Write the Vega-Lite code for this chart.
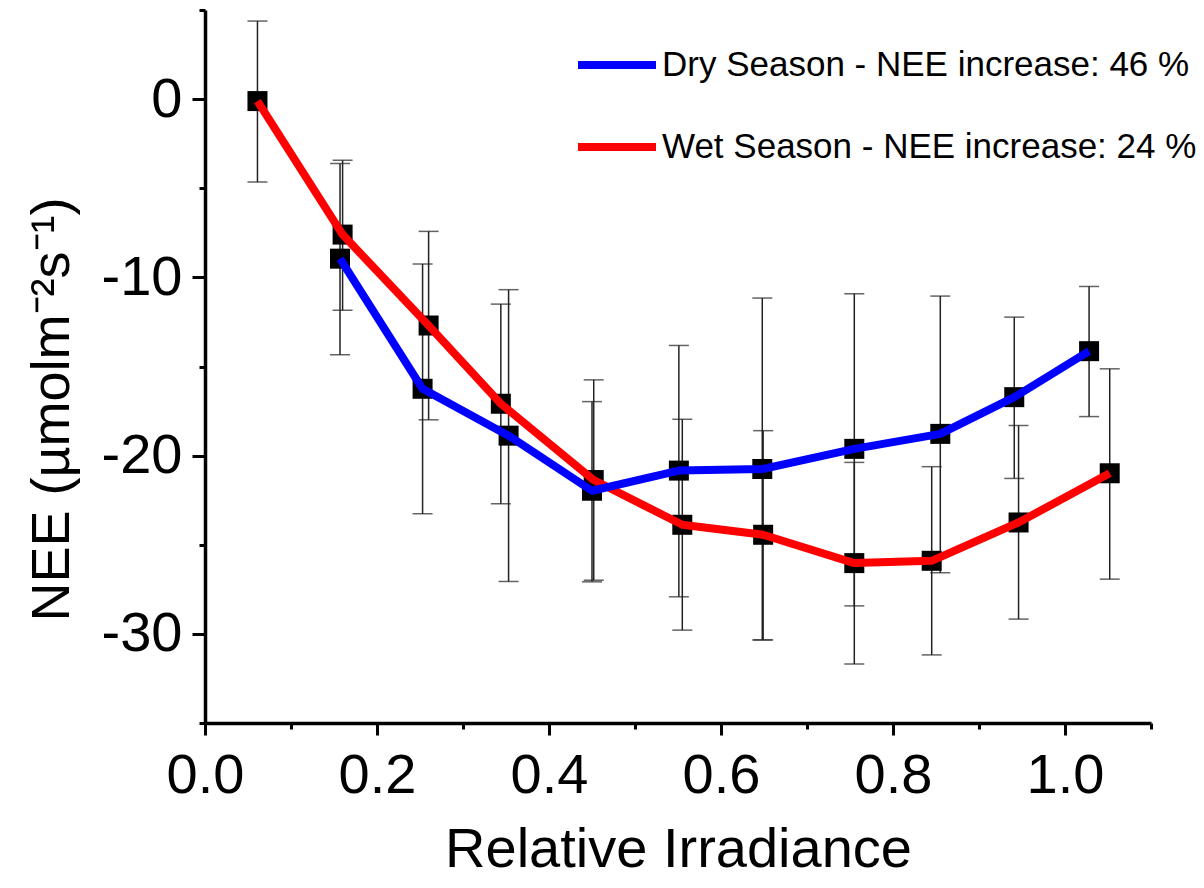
{
  "$schema": "https://vega.github.io/schema/vega-lite/v6.json",
  "width": 946,
  "height": 713,
  "autosize": {"type": "none"},
  "padding": {"left": 205, "top": 10, "right": 53, "bottom": 165},
  "background": "white",
  "config": {
    "view": {"stroke": null},
    "font": "Liberation Sans",
    "axis": {
      "grid": false,
      "domainColor": "black",
      "tickColor": "black",
      "labelColor": "black",
      "titleColor": "black",
      "titleFontWeight": "normal",
      "labelFont": "Liberation Sans",
      "titleFont": "Liberation Sans"
    }
  },
  "datasets": {
    "nee": [
      {"season": "Wet", "x": 0.061, "nee": -0.11, "lo": -4.65, "hi": 4.38},
      {"season": "Wet", "x": 0.160, "nee": -7.60, "lo": -11.85, "hi": -3.43},
      {"season": "Wet", "x": 0.260, "nee": -12.70, "lo": -17.99, "hi": -7.42},
      {"season": "Wet", "x": 0.344, "nee": -17.09, "lo": -22.70, "hi": -11.50},
      {"season": "Wet", "x": 0.452, "nee": -21.37, "lo": -26.99, "hi": -15.75},
      {"season": "Wet", "x": 0.555, "nee": -23.88, "lo": -29.79, "hi": -17.96},
      {"season": "Wet", "x": 0.649, "nee": -24.44, "lo": -30.34, "hi": -18.60},
      {"season": "Wet", "x": 0.755, "nee": -26.03, "lo": -31.69, "hi": -20.38},
      {"season": "Wet", "x": 0.845, "nee": -25.90, "lo": -31.18, "hi": -20.62},
      {"season": "Wet", "x": 0.946, "nee": -23.75, "lo": -29.17, "hi": -18.31},
      {"season": "Wet", "x": 1.052, "nee": -20.99, "lo": -26.93, "hi": -15.13},
      {"season": "Dry", "x": 0.157, "nee": -8.95, "lo": -14.34, "hi": -3.61},
      {"season": "Dry", "x": 0.253, "nee": -16.25, "lo": -23.26, "hi": -9.25},
      {"season": "Dry", "x": 0.353, "nee": -18.88, "lo": -27.06, "hi": -10.69},
      {"season": "Dry", "x": 0.450, "nee": -21.97, "lo": -27.08, "hi": -16.97},
      {"season": "Dry", "x": 0.551, "nee": -20.84, "lo": -27.92, "hi": -13.82},
      {"season": "Dry", "x": 0.648, "nee": -20.75, "lo": -30.34, "hi": -11.16},
      {"season": "Dry", "x": 0.755, "nee": -19.62, "lo": -28.43, "hi": -10.92},
      {"season": "Dry", "x": 0.855, "nee": -18.78, "lo": -26.57, "hi": -11.05},
      {"season": "Dry", "x": 0.941, "nee": -16.72, "lo": -21.28, "hi": -12.23},
      {"season": "Dry", "x": 1.028, "nee": -14.14, "lo": -17.81, "hi": -10.51}
    ]
  },
  "data": {"name": "nee"},
  "resolve": {"axis": {"x": "independent", "y": "independent"}},
  "layer": [
    {
      "mark": {"type": "rule", "color": "#222222", "strokeWidth": 1.5},
      "encoding": {
        "x": {
          "field": "x", "type": "quantitative",
          "scale": {"domain": [0, 1.1], "nice": false, "zero": false},
          "axis": {
            "orient": "bottom",
            "values": [0, 0.2, 0.4, 0.6, 0.8, 1.0],
            "format": ".1f",
            "title": "Relative Irradiance",
            "titleFontSize": 56,
            "titleBaseline": "alphabetic",
            "titleY": 143,
            "labelFontSize": 56,
            "labelPadding": 13,
            "labelFlush": false,
            "tickSize": 12,
            "tickWidth": 3,
            "domainWidth": 3.5
          }
        },
        "y": {
          "field": "lo", "type": "quantitative",
          "scale": {"domain": [-35, 5], "nice": false, "zero": false},
          "axis": {
            "orient": "left",
            "values": [0, -10, -20, -30],
            "labelExpr": "toString(datum.value)",
            "title": "NEE (µmolm⁻²s⁻¹)",
            "titleFontSize": 54,
            "titleAngle": 270,
            "titleAlign": "center",
            "titleBaseline": "alphabetic",
            "titleX": -137,
            "titleY": 399,
            "labelFontSize": 56,
            "labelPadding": 10,
            "labelFlush": false,
            "tickSize": 13,
            "tickWidth": 3,
            "domainWidth": 3.5
          }
        },
        "y2": {"field": "hi"}
      }
    },
    {
      "mark": {"type": "tick", "orient": "horizontal", "color": "#222222", "size": 20, "thickness": 1.5},
      "encoding": {
        "x": {
          "field": "x", "type": "quantitative",
          "scale": {"domain": [0, 1.1], "nice": false, "zero": false},
          "axis": {
            "orient": "bottom",
            "values": [0.1, 0.3, 0.5, 0.7, 0.9, 1.1],
            "labels": false,
            "domain": false,
            "title": null,
            "tickSize": 6,
            "tickWidth": 3
          }
        },
        "y": {
          "field": "lo", "type": "quantitative",
          "scale": {"domain": [-35, 5], "nice": false, "zero": false},
          "axis": {
            "orient": "left",
            "values": [5, -5, -15, -25, -35],
            "labels": false,
            "domain": false,
            "title": null,
            "tickSize": 6,
            "tickWidth": 3
          }
        }
      }
    },
    {
      "mark": {"type": "tick", "orient": "horizontal", "color": "#222222", "size": 20, "thickness": 1.5},
      "encoding": {
        "x": {"field": "x", "type": "quantitative", "scale": {"domain": [0, 1.1], "nice": false, "zero": false}, "axis": null},
        "y": {"field": "hi", "type": "quantitative", "scale": {"domain": [-35, 5], "nice": false, "zero": false}, "axis": null}
      }
    },
    {
      "mark": {"type": "point", "shape": "square", "filled": true, "color": "black", "size": 400, "opacity": 1},
      "encoding": {
        "x": {"field": "x", "type": "quantitative", "scale": {"domain": [0, 1.1], "nice": false, "zero": false}, "axis": null},
        "y": {"field": "nee", "type": "quantitative", "scale": {"domain": [-35, 5], "nice": false, "zero": false}, "axis": null}
      }
    },
    {
      "mark": {"type": "line", "strokeWidth": 8, "strokeCap": "butt", "strokeJoin": "round"},
      "encoding": {
        "x": {"field": "x", "type": "quantitative", "scale": {"domain": [0, 1.1], "nice": false, "zero": false}, "axis": null},
        "y": {"field": "nee", "type": "quantitative", "scale": {"domain": [-35, 5], "nice": false, "zero": false}, "axis": null},
        "order": {"field": "x", "type": "quantitative"},
        "color": {
          "field": "season", "type": "nominal",
          "scale": {"domain": ["Dry", "Wet"], "range": ["#0000ff", "#ff0000"]},
          "legend": {
            "orient": "none",
            "legendX": 369,
            "legendY": 12,
            "title": null,
            "padding": 0,
            "symbolType": "stroke",
            "symbolSize": 6084,
            "symbolStrokeWidth": 8,
            "labelFont": "Liberation Sans",
            "labelFontSize": 35,
            "labelColor": "black",
            "labelOffset": 2,
            "labelLimit": 0,
            "rowPadding": 21,
            "labelExpr": "datum.label == 'Dry' ? 'Dry Season - NEE increase: 46 %' : 'Wet Season - NEE increase: 24 %'"
          }
        }
      }
    }
  ]
}
